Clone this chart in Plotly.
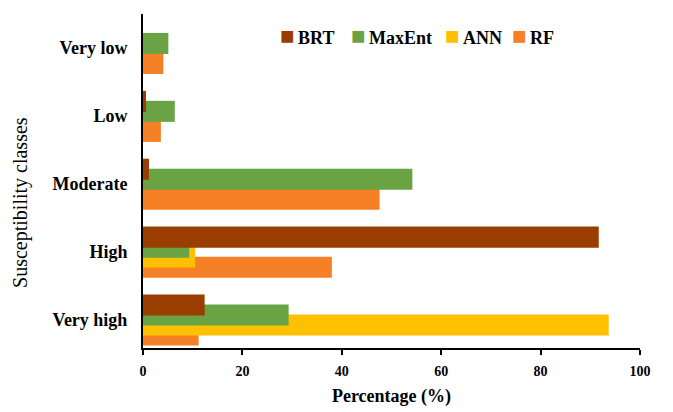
import plotly.graph_objects as go

categories = ["Very low", "Low", "Moderate", "High", "Very high"]
brt = [0.0, 0.6, 1.2, 91.7, 12.4]
maxent = [5.1, 6.4, 54.2, 9.3, 29.3]
ann = [0.0, 0.0, 0.0, 10.5, 93.7]
rf = [4.1, 3.6, 47.6, 38.0, 11.2]

series_names = ["BRT", "MaxEnt", "ANN", "RF"]
series_values = [brt, maxent, ann, rf]
colors = ["#993D00", "#6AA343", "#FFC000", "#F58025"]
offsets = [-0.368, -0.221, -0.074, 0.074]
legend_x = [0.2716, 0.4145, 0.6036, 0.7384]

FONT = "Times New Roman, Liberation Serif, serif"
fig = go.Figure()
# draw RF first so BRT ends on top
for name, vals, color, off in reversed(list(zip(series_names, series_values, colors, offsets))):
    fig.add_trace(go.Bar(
        y=categories, x=vals, name=name, orientation="h",
        marker=dict(color=color, line=dict(width=0)),
        width=0.31, offset=off, showlegend=False,
    ))

# legend entries as text
for name, color, lx in zip(series_names, colors, legend_x):
    fig.add_annotation(
        xref="paper", yref="paper", x=lx, y=0.934,
        xanchor="left", yanchor="middle", showarrow=False,
        text=f"<span style='color:{color};font-size:24px'>■</span>\u2009{name}",
        font=dict(family=FONT, size=18, color="black", weight="bold"),
    )

# y-axis title
fig.add_annotation(
    xref="paper", yref="paper", x=-0.247, y=0.435,
    xanchor="center", yanchor="middle", showarrow=False, textangle=-90,
    text="Susceptibility classes",
    font=dict(family=FONT, size=20, color="black"),
)

fig.update_layout(
    width=673, height=412,
    margin=dict(l=143, r=33, t=14, b=64),
    paper_bgcolor="white", plot_bgcolor="white",
    barmode="overlay",
    font=dict(family=FONT, color="black"),
    showlegend=False,
    xaxis=dict(
        automargin=False,
        range=[0, 100], tickvals=[0, 20, 40, 60, 80, 100],
        showgrid=False, zeroline=False,
        showline=True, linecolor="black", linewidth=2,
        ticks="outside", ticklen=5, tickwidth=2, tickcolor="black",
        ticklabelstandoff=4,
        tickfont=dict(family=FONT, size=14, weight="bold"),
        title=dict(text="Percentage (%)", font=dict(family=FONT, size=18, weight="bold"), standoff=12),
    ),
    yaxis=dict(
        automargin=False,
        categoryorder="array", categoryarray=categories,
        range=[4.42, -0.5],
        showgrid=False, zeroline=False,
        showline=True, linecolor="black", linewidth=2,
        ticks="", ticklabelstandoff=10,
        tickfont=dict(family=FONT, size=18, weight="bold"),
    ),
)

fig.write_html("out.html", config={"displayModeBar": False},
               post_script="document.body.style.margin='0';document.body.style.padding='0';")
